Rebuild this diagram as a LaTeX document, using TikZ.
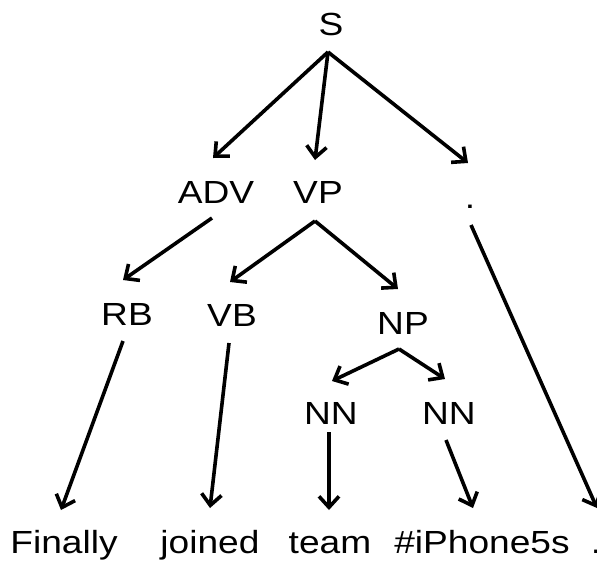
\documentclass[tikz,border=0pt]{standalone}
\usepackage{fontspec}
\setmainfont{Liberation Sans}[FakeStretch=1.16]
\usetikzlibrary{arrows.meta}
\tikzset{
  lbl/.style={anchor=base, inner sep=0pt, font=\fontsize{32}{36}\selectfont},
  edge/.style={line width=3.6pt, -{Straight Barb[length=11pt,width=20pt]}}
}
\begin{document}
\begin{tikzpicture}[x=1pt, y=-1pt]
\useasboundingbox (0,0) rectangle (597,563);
% tree labels, placed on their baselines
\node[lbl] (S)   at (331,35)  {S};
\node[lbl] (ADV) at (216,203) {ADV};
\node[lbl] (VP)  at (318,203) {VP};
\node[lbl] (PU)  at (470,208) {.};
\node[lbl] (RB)  at (127,325) {RB};
\node[lbl] (VB)  at (232,326) {VB};
\node[lbl] (NP)  at (403,334) {NP};
\node[lbl] (NNa) at (331,424) {NN};
\node[lbl] (NNb) at (449,424) {NN};
% leaves
\node[lbl] (W1) at (64,553)  {Finally};
\node[lbl] (W2) at (210,553) {joined};
\node[lbl] (W3) at (330,553) {team};
\node[lbl] (W4) at (482,553) {\#iPhone5s};
\node[lbl] (W5) at (596,553) {.};
% edges
\draw[edge] ([shift={(-3,17)}]S.base)   -- ([shift={(-3,-45)}]ADV.base);
\draw[edge] ([shift={(-3,17)}]S.base)   -- ([shift={(-3,-43)}]VP.base);
\draw[edge] ([shift={(-3,17)}]S.base)   -- ([shift={(-2,-45)}]PU.base);
\draw[edge] ([shift={(-4,15)}]ADV.base) -- ([shift={(-4,-45)}]RB.base);
\draw[edge] ([shift={(-3,18)}]VP.base)  -- ([shift={(-2,-44)}]VB.base);
\draw[edge] ([shift={(-3,18)}]VP.base)  -- ([shift={(-5,-45)}]NP.base);
\draw[edge] ([shift={(-4,16)}]RB.base)  -- ([shift={(-3,-43)}]W1.base);
\draw[edge] ([shift={(-3,17)}]VB.base)  -- ([shift={(0,-45)}]W2.base);
\draw[edge] ([shift={(-4,15)}]NP.base)  -- ([shift={(1,-43)}]NNa.base);
\draw[edge] ([shift={(-4,15)}]NP.base)  -- ([shift={(-4,-45)}]NNb.base);
\draw[edge] ([shift={(-2,8)}]NNa.base)  -- ([shift={(-1,-43)}]W3.base);
\draw[edge] ([shift={(-3,16)}]NNb.base) -- ([shift={(-9,-45)}]W4.base);
\draw[edge] ([shift={(1,17)}]PU.base)   -- ([shift={(1,-45)}]W5.base);
\end{tikzpicture}
\end{document}
